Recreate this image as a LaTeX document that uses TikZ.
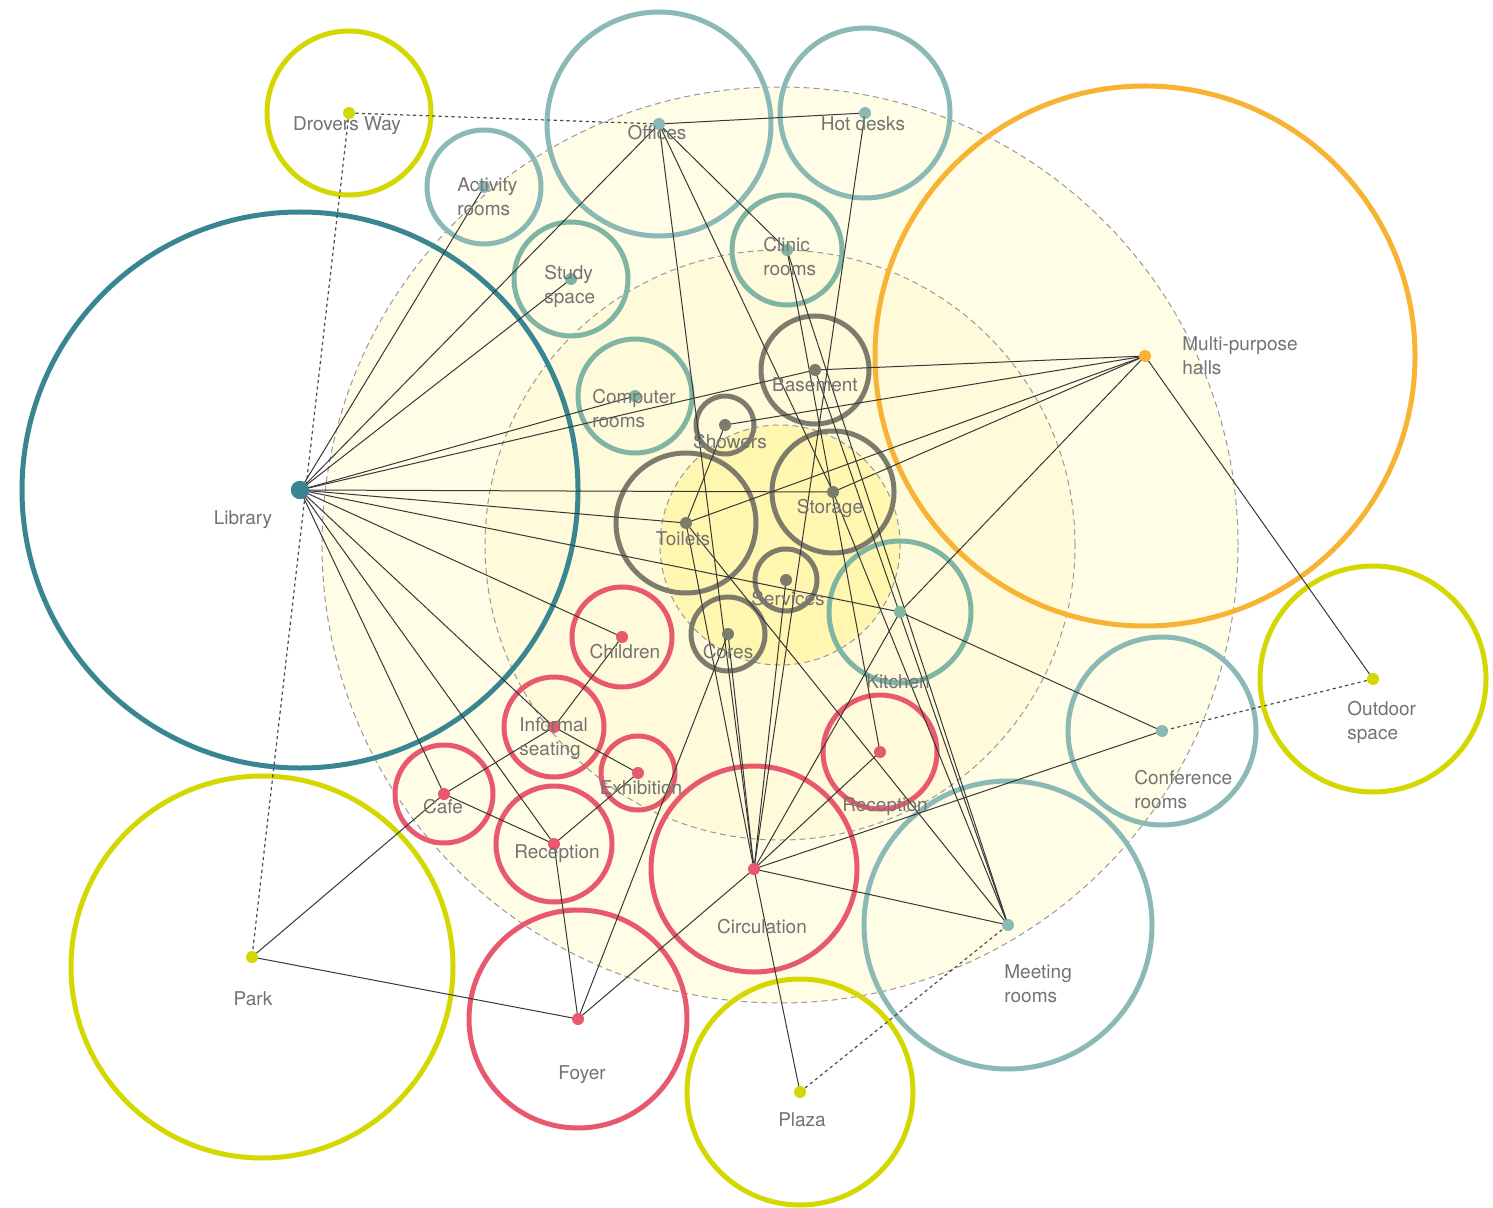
\documentclass[tikz,border=0pt]{standalone}
\usepackage{fontspec}
\setmainfont{TeX Gyre Heros}
\definecolor{yg}{RGB}{212,216,0}
\definecolor{tealA}{RGB}{138,185,182}
\definecolor{tealB}{RGB}{128,181,163}
\definecolor{libc}{RGB}{57,134,146}
\definecolor{grayc}{RGB}{125,123,108}
\definecolor{redc}{RGB}{232,88,110}
\definecolor{orc}{RGB}{247,179,52}
\definecolor{txt}{RGB}{115,115,115}
\definecolor{bgA}{RGB}{255,253,230}
\definecolor{bgB}{RGB}{254,250,218}
\definecolor{bgC}{RGB}{255,246,176}
\tikzset{
  ring/.style={circle, draw=#1, line width=2.5pt, inner sep=0pt, fill=none},
  pt/.style={circle, inner sep=0pt, minimum size=0pt},
  link/.style={draw=black!78, line width=0.5pt},
  dotl/.style={draw=black!70, line width=0.6pt, dash pattern=on 1.6pt off 1.6pt},
  bgdash/.style={draw=black!40, line width=0.5pt, dash pattern=on 3pt off 2pt},
  lbl/.style={text=txt, inner sep=0pt, font=\fontsize{9.5}{12}\selectfont},
  lbl2/.style={lbl, anchor=west, align=left}
}
\newcommand{\rn}[5]{\node[ring=#5, minimum size=#4pt] (#1) at (#2,#3) {};}
\begin{document}
\begin{tikzpicture}[x=0.5pt,y=-0.5pt]
\useasboundingbox (0,0) rectangle (1493,1208);
\fill[white] (0,0) rectangle (1493,1208);
% zones
\fill[bgA] (780,545) circle (229pt);
\fill[bgB] (780,545) circle (147.5pt);
\fill[bgC] (780,545) circle (60pt);
\draw[bgdash] (780,545) circle (229pt);
\draw[bgdash] (780,545) circle (147.5pt);
\draw[bgdash] (780,545) circle (60pt);
% rooms
\rn{drov}{349}{113}{82}{yg}
\rn{off}{659}{124}{112}{tealA}
\rn{hot}{865}{113}{85}{tealA}
\rn{act}{484}{187}{57}{tealA}
\rn{stu}{571}{279}{57}{tealB}
\rn{cli}{787}{250}{55}{tealB}
\rn{com}{635}{396}{57}{tealB}
\rn{bas}{815}{370}{54}{grayc}
\rn{sho}{725}{425}{29}{grayc}
\rn{sto}{833}{492}{61}{grayc}
\rn{toi}{686}{523}{70}{grayc}
\rn{ser}{786}{580}{31}{grayc}
\rn{cor}{728}{634}{37}{grayc}
\rn{kit}{900}{612}{71}{tealB}
\rn{mph}{1145}{356}{270}{orc}
\rn{out}{1373}{679}{113}{yg}
\rn{con}{1162}{731}{94}{tealA}
\rn{mee}{1008}{925}{144}{tealA}
\rn{recr}{880}{752}{57}{redc}
\rn{cir}{754}{869}{103}{redc}
\rn{chi}{622}{637}{50}{redc}
\rn{inf}{554}{727}{50}{redc}
\rn{exh}{638}{773}{37}{redc}
\rn{caf}{444}{794}{49}{redc}
\rn{recl}{554}{844}{58}{redc}
\rn{foy}{578}{1019}{109}{redc}
\rn{pla}{800}{1092}{113}{yg}
\rn{parkring}{262}{967}{191}{yg}
\rn{lib}{300}{490}{278}{libc}
\node[pt] (park) at (252,957) {};
% dotted links
\draw[dotl] (drov.center) -- (off.center);
\draw[dotl] (drov.center) -- (park);
\draw[dotl] (out.center) -- (con.center);
\draw[dotl] (pla.center) -- (mee.center);
% solid links
\foreach \t in {act,off,stu,com,bas,sto,toi,kit,chi,inf,recl,caf}
  \draw[link] (lib.center) -- (\t.center);
\foreach \a/\b in {off/hot,off/cli,off/sto,off/cir,hot/cir,cli/recr,cli/mee,
  bas/mph,bas/mee,sho/mph,sho/toi,toi/mph,toi/cir,toi/mee,sto/mph,sto/mee,
  mph/kit,mph/out,kit/cir,kit/con,ser/cir,cor/cir,cor/foy,cir/recr,cir/con,
  cir/mee,cir/pla,cir/foy,chi/inf,inf/exh,inf/caf,exh/recl,caf/recl,recl/foy}
  \draw[link] (\a.center) -- (\b.center);
\draw[link] (caf.center) -- (park);
\draw[link] (park) -- (foy.center);
% dots
\foreach \n/\c in {drov/yg,off/tealA,hot/tealA,act/tealA,stu/tealB,cli/tealB,com/tealB,
  bas/grayc,sho/grayc,sto/grayc,toi/grayc,ser/grayc,cor/grayc,kit/tealB,mph/orc,out/yg,
  con/tealA,mee/tealA,recr/redc,cir/redc,chi/redc,inf/redc,exh/redc,caf/redc,recl/redc,
  foy/redc,pla/yg}
  \fill[\c] (\n.center) circle (3pt);
\fill[yg] (park) circle (3pt);
\fill[libc] (lib.center) circle (4.6pt);
% labels
\node[lbl] (l-drov) at (347,126) {\strut Drovers Way};
\node[lbl] (l-off) at (657,135) {\strut Offices};
\node[lbl] (l-hot) at (863,126) {\strut Hot desks};
\node[lbl2] (l-act) at (457,199) {\strut Activity\\\strut rooms};
\node[lbl2] (l-stu) at (544,287) {\strut Study\\\strut space};
\node[lbl2] (l-cli) at (763,259) {\strut Clinic\\\strut rooms};
\node[lbl2] (l-com) at (592,411) {\strut Computer\\\strut rooms};
\node[lbl] (l-bas) at (815,387) {\strut Basement};
\node[lbl] (l-sho) at (730,444) {\strut Showers};
\node[lbl] (l-sto) at (830,509) {\strut Storage};
\node[lbl] (l-toi) at (683,541) {\strut Toilets};
\node[lbl] (l-ser) at (788,601) {\strut Services};
\node[lbl] (l-cor) at (728,654) {\strut Cores};
\node[lbl] (l-kit) at (898,684) {\strut Kitchen};
\node[lbl2] (l-mph) at (1182,358) {\strut Multi-purpose\\\strut halls};
\node[lbl2] (l-out) at (1347,723) {\strut Outdoor\\\strut space};
\node[lbl2] (l-con) at (1134,792) {\strut Conference\\\strut rooms};
\node[lbl2] (l-mee) at (1004,986) {\strut Meeting\\\strut rooms};
\node[lbl] (l-recr) at (885,807) {\strut Reception};
\node[lbl] (l-cir) at (762,929) {\strut Circulation};
\node[lbl] (l-chi) at (625,654) {\strut Children};
\node[lbl2] (l-inf) at (519,739) {\strut Informal\\\strut seating};
\node[lbl] (l-exh) at (641,790) {\strut Exhibition};
\node[lbl] (l-caf) at (443,809) {\strut Cafe};
\node[lbl] (l-recl) at (557,854) {\strut Reception};
\node[lbl] (l-foy) at (582,1075) {\strut Foyer};
\node[lbl] (l-pla) at (802,1122) {\strut Plaza};
\node[lbl] (l-park) at (253,1001) {\strut Park};
\node[lbl] (l-lib) at (243,520) {\strut Library};
\end{tikzpicture}
\end{document}
